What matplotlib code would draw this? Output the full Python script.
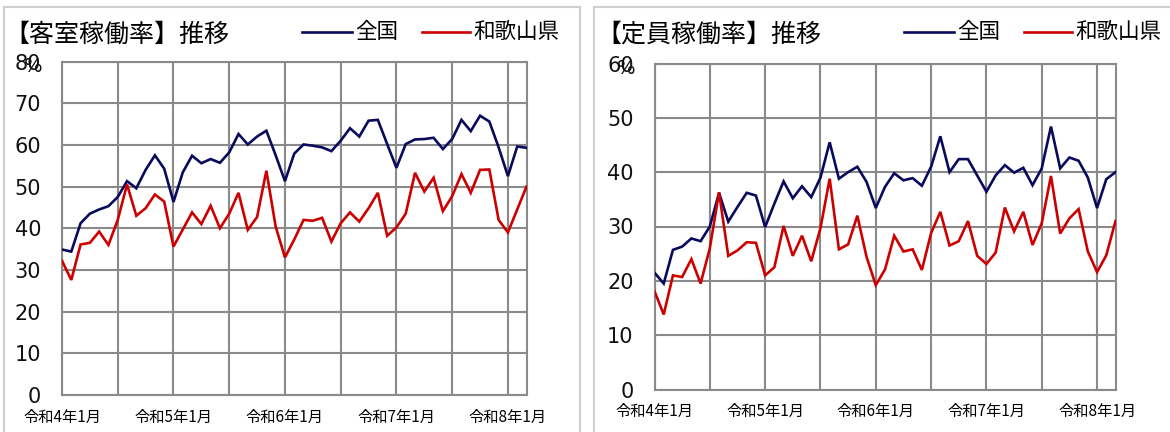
import matplotlib
matplotlib.use("Agg")
import matplotlib.pyplot as plt
from matplotlib.patches import Rectangle

plt.rcParams['font.family'] = ['DejaVu Sans', 'Noto Sans CJK JP']

# ---- data ----
tick_labels = ["令和4年1月", "令和5年1月", "令和6年1月", "令和7年1月", "令和8年1月"]
series_names = ["全国", "和歌山県"]

room_national = [34.9, 34.4, 41.2, 43.5, 44.5, 45.3, 47.5, 51.3, 49.6, 54.0,
                 57.5, 54.3, 46.3, 53.4, 57.4, 55.6, 56.6, 55.7, 58.2, 62.6,
                 60.1, 62.0, 63.4, 57.5, 51.3, 57.9, 60.1, 59.8, 59.4, 58.5,
                 61.0, 64.0, 62.0, 65.8, 66.0, 60.2, 54.5, 60.2, 61.3, 61.4,
                 61.7, 59.0, 61.4, 66.0, 63.3, 67.0, 65.6, 59.4, 52.5, 59.6,
                 59.3]
room_wakayama = [32.2, 27.6, 36.1, 36.5, 39.2, 36.0, 42.0, 50.5, 43.0, 44.8,
                 48.1, 46.4, 35.6, 39.7, 43.8, 41.0, 45.4, 40.0, 43.5, 48.5,
                 39.6, 42.7, 53.8, 40.4, 33.0, 37.3, 42.0, 41.8, 42.5, 36.8,
                 41.2, 43.8, 41.6, 44.8, 48.5, 38.2, 40.2, 43.5, 53.3, 48.8,
                 52.1, 44.1, 47.7, 53.0, 48.5, 54.0, 54.1, 42.0, 39.0, 44.5,
                 50.0]
cap_national = [21.5, 19.5, 25.7, 26.3, 27.8, 27.3, 30.0, 36.2, 30.9, 33.6,
                36.2, 35.7, 29.9, 34.2, 38.3, 35.2, 37.4, 35.4, 39.0, 45.5,
                38.8, 40.0, 41.0, 38.2, 33.4, 37.3, 39.8, 38.5, 38.9, 37.5,
                41.0, 46.6, 40.0, 42.4, 42.4, 39.4, 36.4, 39.4, 41.3, 39.9,
                40.8, 37.6, 40.7, 48.4, 40.7, 42.7, 42.1, 39.0, 33.4, 38.7,
                40.0]
cap_wakayama = [18.1, 13.8, 21.0, 20.7, 24.0, 19.5, 26.0, 36.3, 24.6, 25.6,
                27.1, 27.0, 21.0, 22.5, 30.1, 24.6, 28.3, 23.6, 29.7, 38.8,
                25.8, 26.7, 32.0, 24.4, 19.2, 22.1, 28.3, 25.4, 25.8, 22.0,
                28.8, 32.7, 26.5, 27.3, 31.0, 24.6, 23.1, 25.2, 33.5, 29.1,
                32.7, 26.6, 30.6, 39.3, 28.7, 31.5, 33.2, 25.4, 21.6, 24.7,
                31.0]

W, H = 1170, 432
fig = plt.figure(figsize=(W / 100, H / 100), dpi=100)
fig.patch.set_facecolor('white')

NAVY = '#0a0a5c'
RED = '#cc0000'
GRID = '#8a8a8a'
JP = ['Noto Sans CJK JP', 'DejaVu Sans']


def px_rect(x0, y0, x1, y1):
    return [x0 / W, 1 - y1 / H, (x1 - x0) / W, (y1 - y0) / H]


# panel borders
for (x0, y0, x1, y1) in [(4, 7, 580, 440), (594, 7, 1180, 440)]:
    fig.patches.append(Rectangle((x0 / W, 1 - y1 / H), (x1 - x0) / W, (y1 - y0) / H,
                                 transform=fig.transFigure, fill=False,
                                 edgecolor='#d0d0d0', lw=1.5, zorder=0))


def panel(rect, nat, wak, ymax, title, title_xy, leg_x, pct_xy):
    ax = fig.add_axes(px_rect(*rect))
    n = len(nat)
    x = list(range(n))
    ax.plot(x, nat, color=NAVY, lw=1.9, zorder=3, solid_joinstyle='miter')
    ax.plot(x, wak, color=RED, lw=1.9, zorder=3, solid_joinstyle='miter')
    ax.set_xlim(0, n - 1)
    ax.set_ylim(0, ymax)
    ax.set_yticks(range(0, ymax + 1, 10))
    ax.set_xticks(range(0, n, 6), minor=False)
    labs = []
    for i in range(0, n, 6):
        labs.append(tick_labels[i // 12] if i % 12 == 0 else "")
    ax.set_xticklabels(labs, fontsize=11, family=JP)
    ax.grid(True, color=GRID, lw=1.5, zorder=1)
    for s in ax.spines.values():
        s.set_color(GRID)
        s.set_linewidth(1.5)
    ax.tick_params(axis='both', length=0)
    ax.tick_params(axis='y', labelsize=15, pad=15, labelcolor='#111111')
    ax.tick_params(axis='x', pad=10)
    # title
    fig.text(title_xy[0] / W, 1 - title_xy[1] / H, title, fontsize=18,
             family=JP, va='center', ha='left')
    # legend
    lx = leg_x
    ly = 1 - 32 / H
    for name, col, lw_, tw in [(series_names[0], NAVY, 50, 62), (series_names[1], RED, 48, 0)]:
        fig.add_artist(plt.Line2D([lx / W, (lx + lw_) / W], [ly, ly], color=col, lw=1.9,
                                  transform=fig.transFigure))
        fig.text((lx + lw_ + 3) / W, ly, name, fontsize=15.5, family=JP, va='center', ha='left')
        lx = lx + lw_ + tw + 8
    fig.text(pct_xy[0] / W, 1 - pct_xy[1] / H, "%", fontsize=14, va='center', ha='center',
             color='#111111')
    return ax


panel((62, 61.5, 526.5, 395), room_national, room_wakayama, 80,
      "【客室稼働率】推移", (4, 35), 302, (33, 67))
panel((654.5, 63.5, 1115.5, 389.5), cap_national, cap_wakayama, 60,
      "【定員稼働率】推移", (596, 35), 904, (626, 69))

fig.savefig("out.png", dpi=100, facecolor='white')
